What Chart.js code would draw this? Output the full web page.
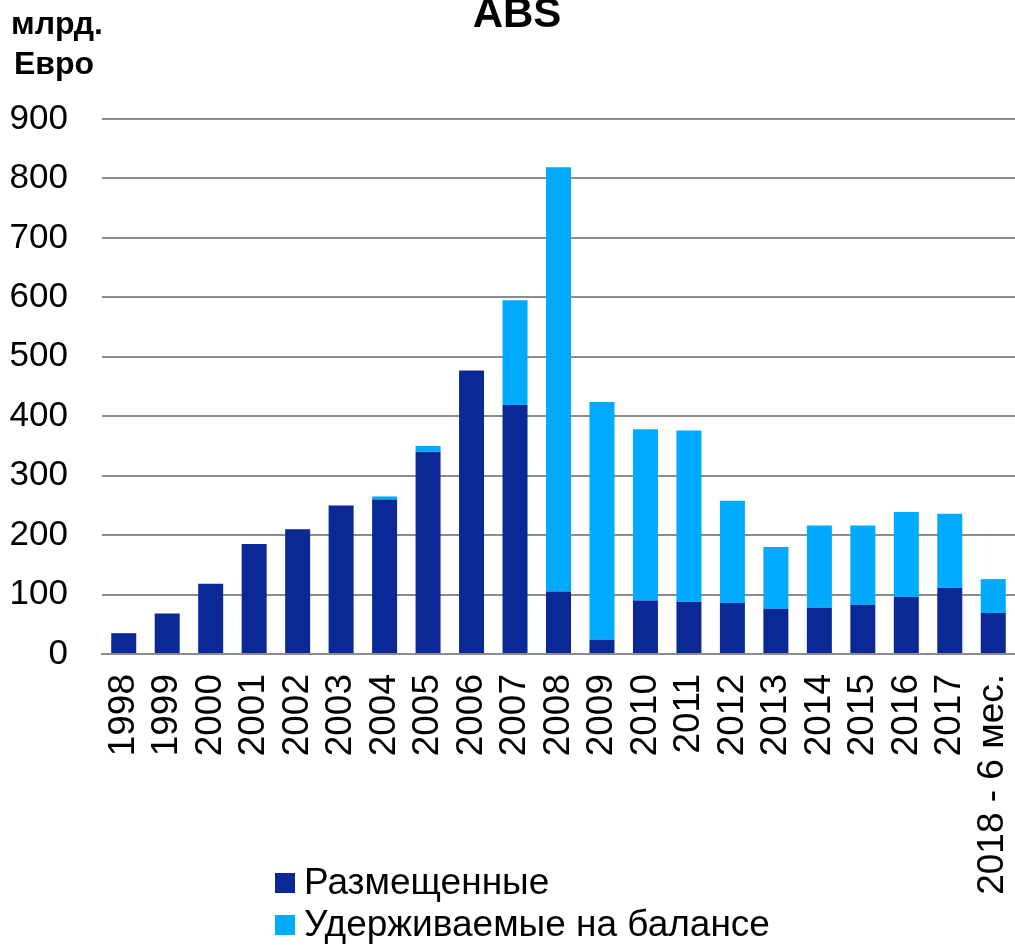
<!DOCTYPE html>
<html>
<head>
  <meta charset="UTF-8">
  <style>
    html, body { margin: 0; padding: 0; background: #fff; }
    #wrap { width: 1015px; height: 945px; position: relative; overflow: hidden; }
  </style>
</head>
<body>
  <div id="wrap"><canvas id="absChart" width="1015" height="945"></canvas></div>

  <script src="https://cdn.jsdelivr.net/npm/chart.js@4.3.0/dist/chart.umd.min.js"></script>
  <script>
    const years = ["1998", "1999", "2000", "2001", "2002", "2003", "2004", "2005", "2006", "2007",
      "2008", "2009", "2010", "2011", "2012", "2013", "2014", "2015", "2016", "2017", "2018 - 6 мес."]
    const placed = [35, 68, 118, 185, 210, 250, 260, 340, 477, 419, 105, 24, 90, 88, 86, 76, 78, 83, 96, 111, 69]
    const retained = [0, 0, 0, 0, 0, 0, 5, 10, 0, 176, 714, 400, 288, 288, 172, 104, 138, 133, 143, 125, 57]
    const seriesNames = ["Размещенные", "Удерживаемые на балансе"]
    const yTicks = [0, 100, 200, 300, 400, 500, 600, 700, 800, 900]

    const font = "'Liberation Sans', Arial, sans-serif"
    const darkBlue = "#0a2896"
    const lightBlue = "#00aaff"
    const gridGray = "#8c8c8c"

    // titles and the two-row legend are drawn by hand, the way the original sits them
    const extras = {
      id: "extras",
      afterDraw(chart) {
        const c = chart.ctx
        c.save()
        c.fillStyle = "#000"
        c.textAlign = "center"
        c.textBaseline = "alphabetic"
        c.font = "bold 42px " + font
        c.fillText("ABS", 517, 27)
        c.font = "bold 32px " + font
        c.fillText("млрд.", 57, 34)
        c.fillText("Евро", 54, 74)

        c.textAlign = "left"
        c.textBaseline = "middle"
        c.font = "37px " + font
        chart.data.datasets.forEach((ds, i) => {
          const y = 883 + i * 42
          c.fillStyle = ds.backgroundColor
          c.fillRect(275, y - 10, 20, 20)
          c.fillStyle = "#000"
          c.fillText(ds.label, 304, y + 1)
        })
        c.restore()
      }
    }

    const ctx = document.getElementById("absChart").getContext("2d")

    const chart = new Chart(ctx, {
      type: "bar",
      data: {
        labels: years,
        datasets: [
          { label: seriesNames[0], data: placed, backgroundColor: darkBlue },
          { label: seriesNames[1], data: retained, backgroundColor: lightBlue }
        ]
      },
      options: {
        responsive: false,
        animation: false,
        // the original plot runs a few pixels past the right edge of the picture
        layout: { padding: { top: 119, right: -3, left: 0, bottom: 0 } },
        plugins: {
          legend: { display: false },
          tooltip: { enabled: false },
          title: { display: false }
        },
        datasets: {
          bar: { barPercentage: 0.575, categoryPercentage: 1.0 }
        },
        scales: {
          x: {
            stacked: true,
            grid: { display: false, drawTicks: false },
            border: { display: true, color: gridGray, width: 2 },
            ticks: {
              color: "#000",
              font: { family: font, size: 37 },
              minRotation: 90,
              maxRotation: 90,
              autoSkip: false,
              padding: 20
            },
            afterFit(scale) {
              scale.height = 291
              scale.paddingLeft = 0
              scale.paddingRight = 0
            }
          },
          y: {
            stacked: true,
            min: 0,
            max: 900,
            afterBuildTicks(scale) { scale.ticks = yTicks.map(v => ({ value: v })) },
            grid: { color: gridGray, lineWidth: 2, drawTicks: false },
            border: { display: false },
            ticks: {
              color: "#000",
              font: { family: font, size: 35 },
              padding: 34
            },
            afterFit(scale) { scale.width = 102 }
          }
        }
      },
      plugins: [extras]
    })
  </script>
</body>
</html>
